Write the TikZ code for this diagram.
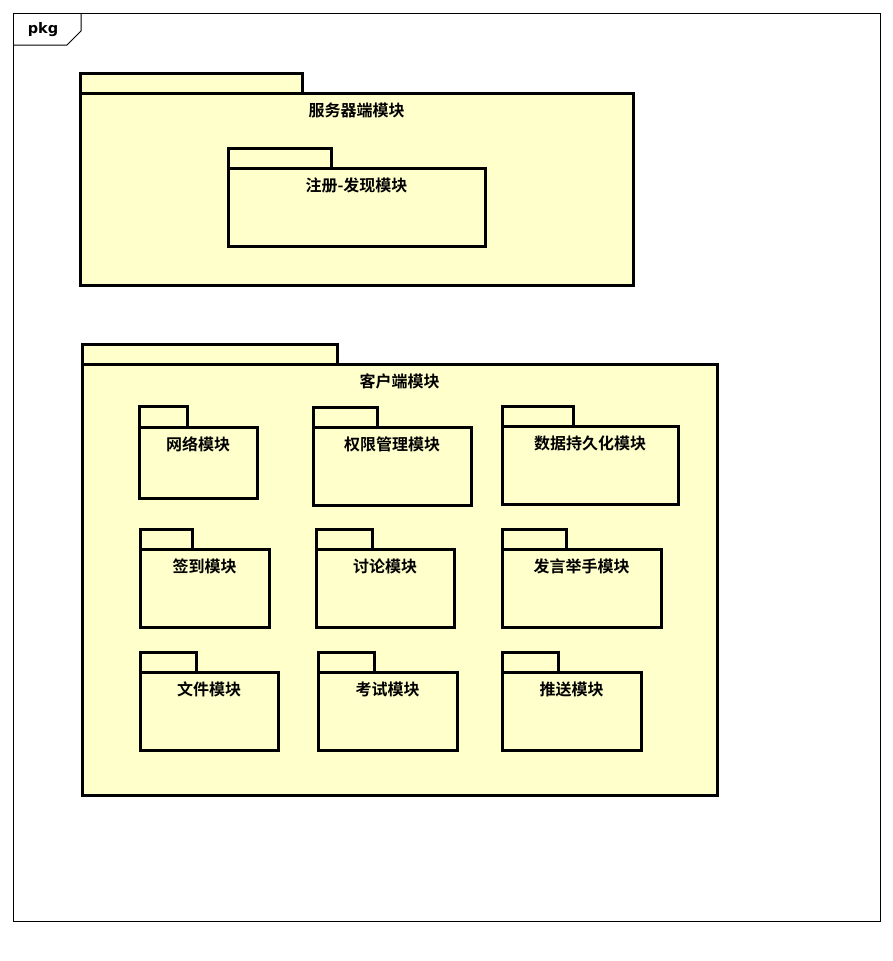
\documentclass[tikz,border=0pt]{standalone}
\usepackage{fontspec}
\newfontfamily\cjk{Noto Sans CJK SC}[BoldFont={* Bold}]
\newfontfamily\lab{DejaVu Sans}
\begin{document}
\begin{tikzpicture}[x=1pt,y=-1pt,
  pkgpart/.style={draw=black, line width=3pt, fill=pkgfill, inner sep=0pt, outer sep=0pt, anchor=north west},
  pkgtitle/.style={font=\cjk\bfseries\fontsize{16}{18}\selectfont, inner sep=0pt, anchor=center},
  framebox/.style={draw=black, line width=1pt}]
\definecolor{pkgfill}{RGB}{255,255,204}
\useasboundingbox[fill=white] (0,0) rectangle (893,961);
% frame
\node[framebox, minimum width=867pt, minimum height=908pt, inner sep=0pt, outer sep=0pt, anchor=north west] (frame) at (13,13) {};
\coordinate (fa) at (81,13);
\coordinate (fb) at (81,31);
\coordinate (fc) at (67,45);
\coordinate (fd) at (13,45);
\draw[line width=1pt] (fa) -- (fb) -- (fc) -- (fd);
\node[font=\lab\bfseries\fontsize{14.5}{16}\selectfont, inner sep=0pt] (pkglabel) at (43,30) {pkg};
% macro: name, x1, ytab, xtab2, ybody, x2, y2, title
\newcommand\umlpkg[8]{%
  \node[pkgpart, minimum width={(#4-#2)*1pt}, minimum height={(#5-#3)*1pt}] (#1tab) at (#2,#3) {};
  \node[pkgpart, minimum width={(#6-#2)*1pt}, minimum height={(#7-#5)*1pt}] (#1) at (#2,#5) {};
  \node[pkgtitle] (#1title) at ([yshift=-17.5pt]#1.north) {#8};
}
\umlpkg{server}{80}{73}{302}{93}{633}{285}{服务器端模块}
\umlpkg{registry}{228}{148}{331}{168}{485}{246}{注册-发现模块}
\umlpkg{client}{82}{344}{337}{364}{717}{795}{客户端模块}
\umlpkg{net}{139}{406}{187}{427}{257}{498}{网络模块}
\umlpkg{auth}{313}{407}{377}{427}{471}{505}{权限管理模块}
\umlpkg{persist}{502}{406}{573}{426}{678}{504}{数据持久化模块}
\umlpkg{signin}{140}{529}{192}{549}{269}{627}{签到模块}
\umlpkg{discuss}{316}{529}{372}{549}{454}{627}{讨论模块}
\umlpkg{speak}{502}{529}{566}{549}{661}{627}{发言举手模块}
\umlpkg{file}{140}{652}{196}{672}{278}{750}{文件模块}
\umlpkg{exam}{318}{652}{374}{672}{457}{750}{考试模块}
\umlpkg{push}{502}{652}{558}{672}{641}{750}{推送模块}
\end{tikzpicture}
\end{document}
